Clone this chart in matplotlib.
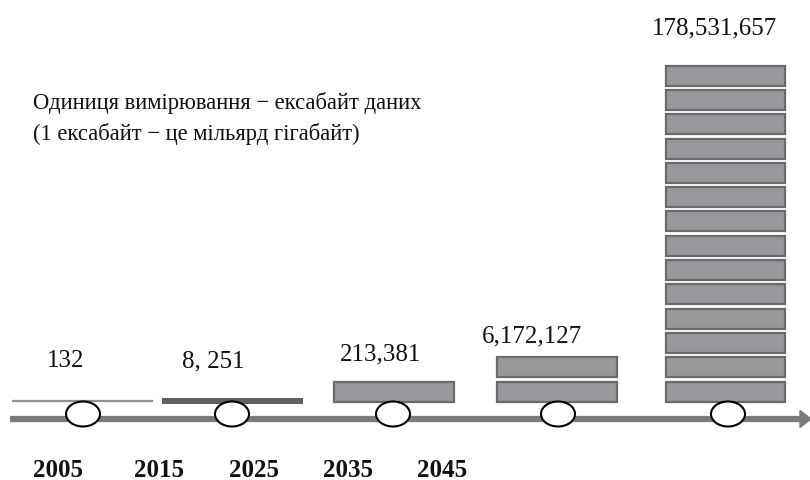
import matplotlib.pyplot as plt
from matplotlib.patches import Ellipse, Rectangle, Polygon

# Data
years = ["2005", "2015", "2025", "2035", "2045"]
value_labels = ["132", "8, 251", "213,381", "6,172,127", "178,531,657"]
n_blocks = [0, 0, 1, 2, 14]          # stacked grey blocks per period (0 -> flat line)
note_lines = ["Одиниця вимірювання − ексабайт даних",
              "(1 ексабайт − це мільярд гігабайт)"]

plt.rcParams['font.family'] = ['Liberation Serif', 'DejaVu Serif']

W, H = 810, 481
fig = plt.figure(figsize=(W / 100, H / 100), dpi=100)
ax = fig.add_axes([0, 0, 1, 1])
ax.set_xlim(0, W)
ax.set_ylim(H, 0)
ax.axis("off")

# layout (pixel-like coordinates)
axis_y = 420
node_x = [83, 232, 393, 558, 728]
block_left = [12, 162, 334, 497, 666]
block_w = [141, 141, 120, 120, 119]
block_h = 20
pitch = 24.3
block_bottom = 402.5
label_x = [66, 213, 381, 532, 714]
label_y = [367, 367, 360, 342, 34]
year_x = [58, 159, 254, 348, 442]

# main arrow
ax.plot([10, 802], [axis_y, axis_y], color="#7b7b7b", lw=4.5, solid_capstyle="butt", zorder=1)
ax.add_patch(Polygon([[800, axis_y - 8.5], [811, axis_y], [800, axis_y + 8.5]],
                     closed=True, color="#7b7b7b", zorder=1))

# the two thin "volumes"
ax.plot([block_left[0], block_left[0] + block_w[0]], [401.5, 401.5],
        color="#8f8f8f", lw=1.6, solid_capstyle="butt", zorder=2)
ax.plot([block_left[1], block_left[1] + block_w[1]], [401.5, 401.5],
        color="#606060", lw=4.3, solid_capstyle="butt", zorder=2)

# stacked blocks
for i, n in enumerate(n_blocks):
    for k in range(n):
        top = block_bottom - k * pitch - block_h
        ax.add_patch(Rectangle((block_left[i], top), block_w[i], block_h,
                               facecolor="#98989c", edgecolor="#6a6a6a", lw=1.6, zorder=2))

# nodes on the arrow
for x in node_x:
    ax.add_patch(Ellipse((x, 415), 34, 25, facecolor="white", edgecolor="black", lw=1.5, zorder=3))

# value labels
for x, y, s in zip(label_x, label_y, value_labels):
    ax.text(x, y, s, ha="center", va="baseline", fontsize=18, color="#111111")

# year labels
for x, s in zip(year_x, years):
    ax.text(x, 477, s, ha="center", va="baseline", fontsize=18, fontweight="bold", color="#111111")

# note
ax.text(33, 103, note_lines[0], ha="left", va="center", fontsize=16.3, color="#111111")
ax.text(33, 134, note_lines[1], ha="left", va="center", fontsize=16.3, color="#111111")

fig.savefig("out.png", dpi=100)
